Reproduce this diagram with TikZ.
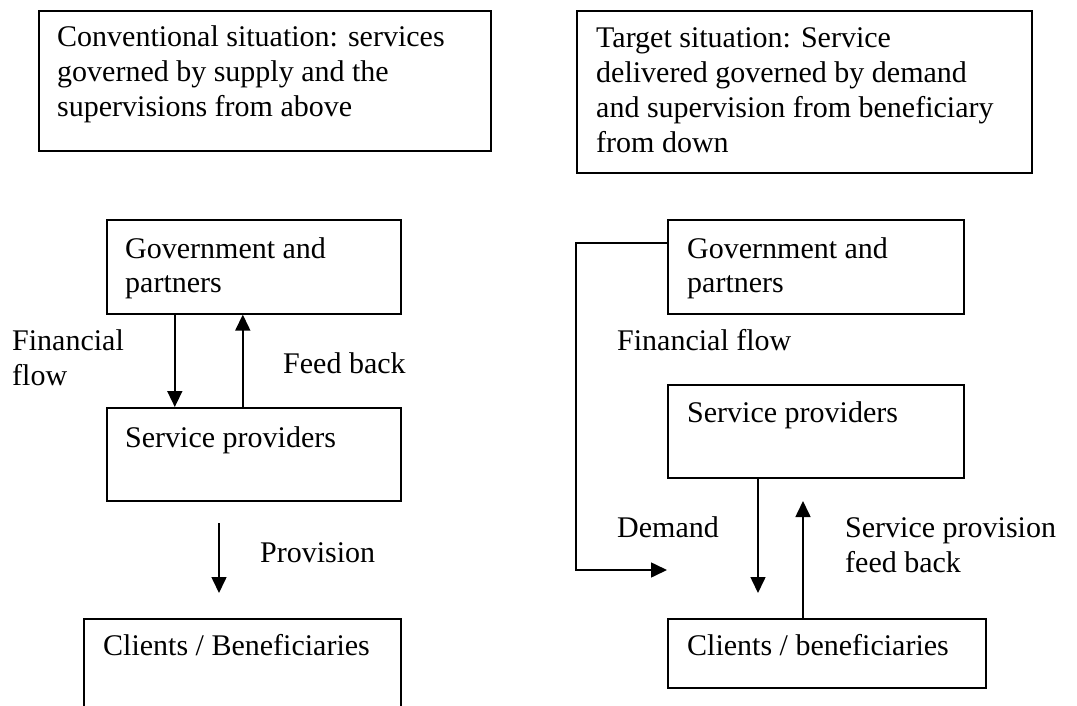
\documentclass[tikz,border=0pt]{standalone}
\usepackage{fontspec}
\setmainfont{Liberation Serif}
\usetikzlibrary{arrows.meta}
\newcommand{\rows}[1]{\begin{tabular}[t]{@{}l@{}}#1\end{tabular}}
\begin{document}
\begin{tikzpicture}[x=1pt,y=-1pt,
  box/.style={draw, line width=1.6pt, rectangle, inner sep=0pt, anchor=north west},
  txt/.style={anchor=base west, inner sep=0pt,
    font=\fontsize{30}{35}\selectfont},
  conn/.style={line width=1.6pt},
  arr/.style={conn, -{Triangle[length=16pt,width=15pt]}}]
\useasboundingbox (0,0) rectangle (1077,706);
\begin{scope}
\clip (0,0) rectangle (1077,706);

% headings
\node[box, minimum width=452pt, minimum height=140pt] (lhead) at (38,10) {};
\node[txt] (lheadt) at (57,47) {\rows{Conventional situation: services\\governed by supply and the\\supervisions from above}};
\node[box, minimum width=455pt, minimum height=162pt] (rhead) at (576,10) {};
\node[txt] (rheadt) at (596,48) {\rows{Target situation: Service\\delivered governed by demand\\and supervision from beneficiary\\from down}};

% conventional situation
\node[box, minimum width=294pt, minimum height=94pt] (lgov) at (106,219) {};
\node[txt] (lgovt) at (125,258) {\rows{Government and\\partners}};
\node[box, minimum width=294pt, minimum height=93pt] (lsp) at (106,407) {};
\node[txt] (lspt) at (125,447) {Service providers};
\node[box, minimum width=317pt, minimum height=120pt] (lcl) at (83,618) {};
\node[txt] (lclt) at (103,655) {Clients / Beneficiaries};

\draw[arr] ([xshift=-79pt]lgov.south) -- ([xshift=-79pt]lsp.north);
\draw[arr] ([xshift=-11pt]lsp.north) -- ([xshift=-11pt]lgov.south);
\coordinate (provtop) at (219,523);
\coordinate (provend) at (219,593);
\draw[arr] (provtop) -- (provend);

\node[txt] (lfin) at (12,350) {\rows{Financial\\flow}};
\node[txt] (lfb) at (283,373) {Feed back};
\node[txt] (lprov) at (260,562) {Provision};

% target situation
\node[box, minimum width=296pt, minimum height=94pt] (rgov) at (667,219) {};
\node[txt] (rgovt) at (687,258) {\rows{Government and\\partners}};
\node[box, minimum width=296pt, minimum height=93pt] (rsp) at (667,384) {};
\node[txt] (rspt) at (687,422) {Service providers};
\node[box, minimum width=318pt, minimum height=69pt] (rcl) at (667,618) {};
\node[txt] (rclt) at (687,655) {Clients / beneficiaries};

\coordinate (demend) at (667,570);
\draw[arr] ([yshift=-24pt]rgov.north west) -| (576,570) -- (demend);
\coordinate (spend) at (758,593);
\draw[arr] (rsp.south -| spend) -- (spend);
\coordinate (fbend) at (803,501);
\draw[arr] (rcl.north -| fbend) -- (fbend);

\node[txt] (rfin) at (617,350) {Financial flow};
\node[txt] (rdem) at (617,537) {Demand};
\node[txt] (rfb) at (845,537) {\rows{Service provision\\feed back}};
\end{scope}
\end{tikzpicture}
\end{document}
